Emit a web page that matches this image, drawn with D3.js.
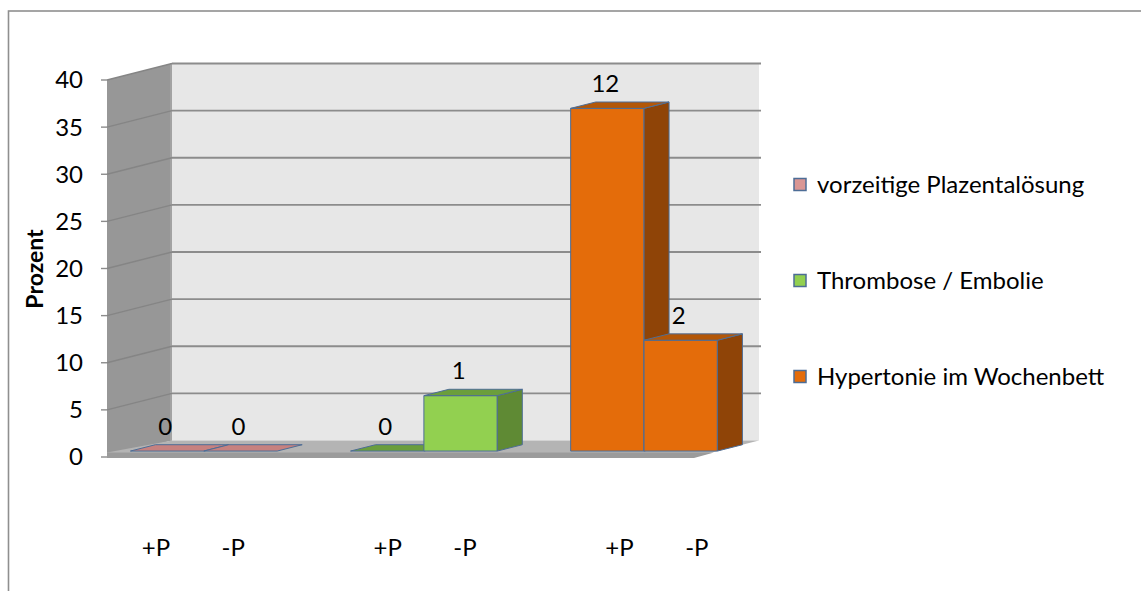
<!DOCTYPE html>
<html>
<head>
<meta charset="utf-8">
<script src="https://cdn.jsdelivr.net/npm/d3@7"></script>
<style>
  html, body { margin: 0; padding: 0; background: #ffffff; }
  svg { display: block; }
  text { font-family: Lato, "Open Sans", sans-serif; fill: #000; }
</style>
</head>
<body>
<svg id="chart" width="1141" height="591"></svg>
<script>
// Series (one colour each) and the two sub-groups shown per series
const seriesNames = ["vorzeitige Plazentalösung", "Thrombose / Embolie", "Hypertonie im Wochenbett"];
const subGroups = ["+P", "-P"];
// Percent values per series: [+P, -P]
const percentPlazenta = [0, 0];
const percentThrombose = [0, 5.88];
const percentHypertonie = [36.36, 11.76];
// Case counts printed above each column
const countPlazenta = [0, 0];
const countThrombose = [0, 1];
const countHypertonie = [12, 2];
// Value axis ticks
const yTicks = [0, 5, 10, 15, 20, 25, 30, 35, 40];

const percents = [percentPlazenta, percentThrombose, percentHypertonie];
const counts = [countPlazenta, countThrombose, countHypertonie];

const palette = [
  { front: "#d99694", side: "#a96a69", top: "#c7817f" },
  { front: "#92d050", side: "#5f8a34", top: "#6b9e3c" },
  { front: "#e46c0a", side: "#8f4407", top: "#b35708" }
];
const edge = "#4d6d96";
const FS = 24;

const svg = d3.select("#chart");

// Front-plane scales; depth is drawn as an oblique offset
const x = d3.scaleBand().domain(d3.range(8)).range([107, 694]).padding(0);
const y = d3.scaleLinear().domain([0, 40]).range([457, 80]);
const DX = 65, DY = -16.5;      // full wall depth
const Z0 = 0.36, Z1 = 0.745;    // column depth span
const P = (xf, v, z) => [xf + DX * z, y(v) + DY * z];
const poly = pts => pts.map(p => p.join(",")).join(" ");
// category labels spread slightly wider than the front plane
const labelX = d3.scaleLinear().domain([143.7, 657.5]).range([156, 697]);

// outer frame
svg.append("rect")
  .attr("x", 8.5).attr("y", 11).attr("width", 1300).attr("height", 800)
  .attr("fill", "none").attr("stroke", "#8f8f8f").attr("stroke-width", 1.6);

const x0 = x.range()[0], x1 = x.range()[1];

// back wall
svg.append("polygon")
  .attr("points", poly([P(x0, 40, 1), P(x1, 40, 1), P(x1, 0, 1), P(x0, 0, 1)]))
  .attr("fill", "#e7e7e7");

// gridlines on back wall
svg.append("g").selectAll("line").data(yTicks.filter(d => d > 0)).join("line")
  .attr("x1", d => P(x0, d, 1)[0]).attr("y1", d => P(x0, d, 1)[1])
  .attr("x2", d => P(x1, d, 1)[0] + 2).attr("y2", d => P(x1, d, 1)[1])
  .attr("stroke", "#8c8c8c").attr("stroke-width", 1.8);

// side wall
svg.append("polygon")
  .attr("points", poly([P(x0, 40, 0), P(x0, 40, 1), P(x0, 0, 1), P(x0, 0, 0)]))
  .attr("fill", "#979797");
svg.append("line")
  .attr("x1", P(x0, 40, 1)[0] - 1).attr("y1", P(x0, 40, 1)[1])
  .attr("x2", P(x0, 0, 1)[0] - 1).attr("y2", P(x0, 0, 1)[1])
  .attr("stroke", "#a3a3a3").attr("stroke-width", 2);

// gridlines on side wall
svg.append("g").selectAll("line").data(yTicks.filter(d => d > 0)).join("line")
  .attr("x1", d => P(x0, d, 0)[0]).attr("y1", d => P(x0, d, 0)[1])
  .attr("x2", d => P(x0, d, 1)[0]).attr("y2", d => P(x0, d, 1)[1])
  .attr("stroke", "#858585").attr("stroke-width", 1.4);

// floor slab
const fb = y(0), ft = y(0) - 4.5;
svg.append("polygon")
  .attr("points", poly([[x0, fb], [x0, ft], P(x0, 0, 1), P(x1, 0, 1), [x1, fb]]))
  .attr("fill", "#b4b4b4");
svg.append("polygon")
  .attr("points", poly([[x0, ft], [x1 + 20, ft], [x1, fb + 1], [x0, fb + 1]]))
  .attr("fill", "#9b9b9b");

// value axis ticks and labels
const axis = svg.append("g");
axis.selectAll("line").data(yTicks).join("line")
  .attr("x1", x0 - 6).attr("x2", x0).attr("y1", d => y(d)).attr("y2", d => y(d))
  .attr("stroke", "#8c8c8c").attr("stroke-width", 1.4);
axis.selectAll("text").data(yTicks).join("text")
  .attr("x", 83).attr("y", d => y(d)).attr("dy", "0.35em")
  .attr("text-anchor", "end").attr("font-size", FS)
  .text(d => d);

svg.append("text")
  .attr("transform", "translate(43,269) rotate(-90)")
  .attr("text-anchor", "middle").attr("font-size", 23).attr("font-weight", "bold")
  .text("Prozent");

// columns
const bars = [];
percents.forEach((vals, s) => vals.forEach((v, g) => {
  bars.push({ s, g, v, n: counts[s][g], slot: s * 3 + g });
}));

const barG = svg.append("g");
bars.forEach(b => {
  const xl = x(b.slot), xr = xl + x.bandwidth();
  const c = palette[b.s];
  const grp = barG.append("g")
    .attr("stroke", edge).attr("stroke-width", 1).attr("stroke-linejoin", "round");
  if (b.v > 0) {
    grp.append("polygon")
      .attr("points", poly([P(xl, 0, Z0), P(xr, 0, Z0), P(xr, b.v, Z0), P(xl, b.v, Z0)]))
      .attr("fill", c.front);
    grp.append("polygon")
      .attr("points", poly([P(xr, 0, Z0), P(xr, 0, Z1), P(xr, b.v, Z1), P(xr, b.v, Z0)]))
      .attr("fill", c.side);
  }
  grp.append("polygon")
    .attr("points", poly([P(xl, b.v, Z0), P(xr, b.v, Z0), P(xr, b.v, Z1), P(xl, b.v, Z1)]))
    .attr("fill", c.top);
});

// count labels above columns
svg.append("g").selectAll("text").data(bars).join("text")
  .attr("x", d => P(x(d.slot) + x.bandwidth() / 2, d.v, Z0)[0] - 2)
  .attr("y", d => P(x(d.slot), d.v, Z1)[1] - 10)
  .attr("text-anchor", "middle").attr("font-size", FS)
  .text(d => d.n);

// category labels
svg.append("g").selectAll("text").data(bars).join("text")
  .attr("x", d => labelX(x(d.slot) + x.bandwidth() / 2))
  .attr("y", 548).attr("dy", "0.35em")
  .attr("text-anchor", "middle").attr("font-size", FS)
  .text(d => subGroups[d.g]);

// legend
const leg = svg.append("g").selectAll("g").data(seriesNames).join("g")
  .attr("transform", (d, i) => `translate(794,${185 + i * 96})`);
leg.append("rect")
  .attr("x", 0).attr("y", -6.5).attr("width", 12).attr("height", 12)
  .attr("fill", (d, i) => palette[i].front)
  .attr("stroke", edge).attr("stroke-width", 1.5);
leg.append("text")
  .attr("x", 23).attr("y", 0).attr("dy", "0.35em").attr("font-size", FS)
  .text(d => d);
</script>
</body>
</html>
